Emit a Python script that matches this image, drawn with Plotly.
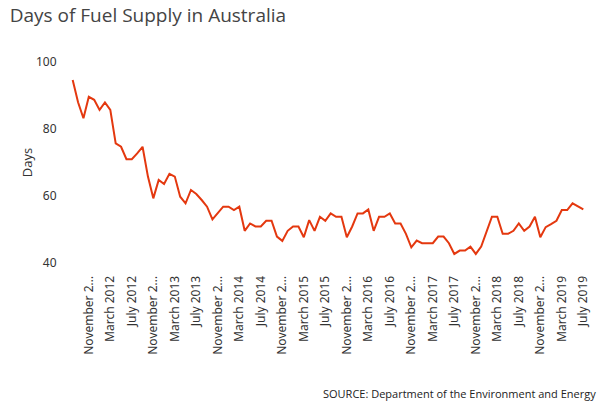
import plotly.graph_objects as go

months = ["January", "February", "March", "April", "May", "June", "July",
          "August", "September", "October", "November", "December"]

# Monthly periods Aug 2011 .. Jul 2019
periods = []
y, m = 2011, 7
while (y, m) <= (2019, 6):
    periods.append(f"{months[m]} {y}")
    m += 1
    if m == 12:
        m = 0
        y += 1

days = [94.6, 88.0, 83.2, 89.6, 88.7, 85.7, 87.9, 85.7, 75.7, 74.7,
        71.0, 71.0, 72.7, 74.7, 65.8, 59.3, 64.8, 63.6, 66.6, 65.8,
        59.8, 57.8, 61.8, 60.6, 58.8, 56.8, 53.0, 55.0, 56.8, 56.8,
        55.8, 56.8, 49.6, 51.8, 50.9, 50.9, 52.6, 52.6, 47.9, 46.6,
        49.6, 50.9, 50.9, 47.7, 52.8, 49.6, 53.8, 52.6, 54.8, 53.8,
        53.8, 47.7, 50.9, 54.8, 54.8, 56.0, 49.6, 53.8, 53.8, 54.8,
        51.8, 51.8, 48.7, 44.7, 46.7, 45.9, 45.9, 45.9, 47.9, 47.9,
        45.9, 42.7, 43.7, 43.7, 44.9, 42.7, 44.9, 49.6, 53.8, 53.8,
        48.7, 48.7, 49.6, 51.8, 49.6, 50.9, 53.8, 47.7, 50.7, 51.6,
        52.6, 55.8, 55.8, 57.8, 56.8, 56.0]

tick_vals = periods[3::4]
tick_text = [p if not p.startswith("November") else "November 2..." for p in tick_vals]
y_ticks = [40, 60, 80, 100]

fig = go.Figure()
fig.add_trace(go.Scatter(x=periods, y=days, mode="lines",
                         line=dict(color="#e4380f", width=2),
                         hoverinfo="x+y"))

fig.update_layout(
    width=607, height=413,
    paper_bgcolor="white", plot_bgcolor="white",
    margin=dict(l=70, r=21, t=62, b=150),
    showlegend=False,
    font=dict(family="Open Sans, Noto Sans, sans-serif", color="#444", size=12),
    title=dict(text="Days of Fuel Supply in Australia", x=0.016, xanchor="left",
               y=1 - 15 / 413, yanchor="middle",
               font=dict(size=19, color="#444", family="Open Sans, sans-serif")),
    xaxis=dict(type="category", categoryorder="array", categoryarray=periods,
               range=[-0.5, 95.5], tickmode="array", tickvals=tick_vals,
               ticktext=tick_text, tickangle=-90, showgrid=False,
               showline=False, zeroline=False, ticks="outside", ticklen=7,
               tickcolor="rgba(0,0,0,0)",
               tickfont=dict(size=12, color="#333", family="Noto Sans, sans-serif")),
    yaxis=dict(range=[40, 100], tickvals=y_ticks, showgrid=False,
               showline=False, zeroline=False, ticks="outside", ticklen=10,
               tickcolor="rgba(0,0,0,0)",
               title=dict(text="Days", font=dict(size=13, color="#333"), standoff=0),
               tickfont=dict(size=12, color="#333", family="Noto Sans, sans-serif")),
    annotations=[dict(text="SOURCE: Department of the Environment and Energy",
                      xref="paper", yref="paper", x=1.023, y=-0.647,
                      xanchor="right", yanchor="middle", showarrow=False,
                      font=dict(size=11, color="#222", family="Open Sans, sans-serif"))],
)

fig.write_html("out.html", config={"displayModeBar": False},
               post_script="document.body.style.margin='0';document.body.style.padding='0';")
